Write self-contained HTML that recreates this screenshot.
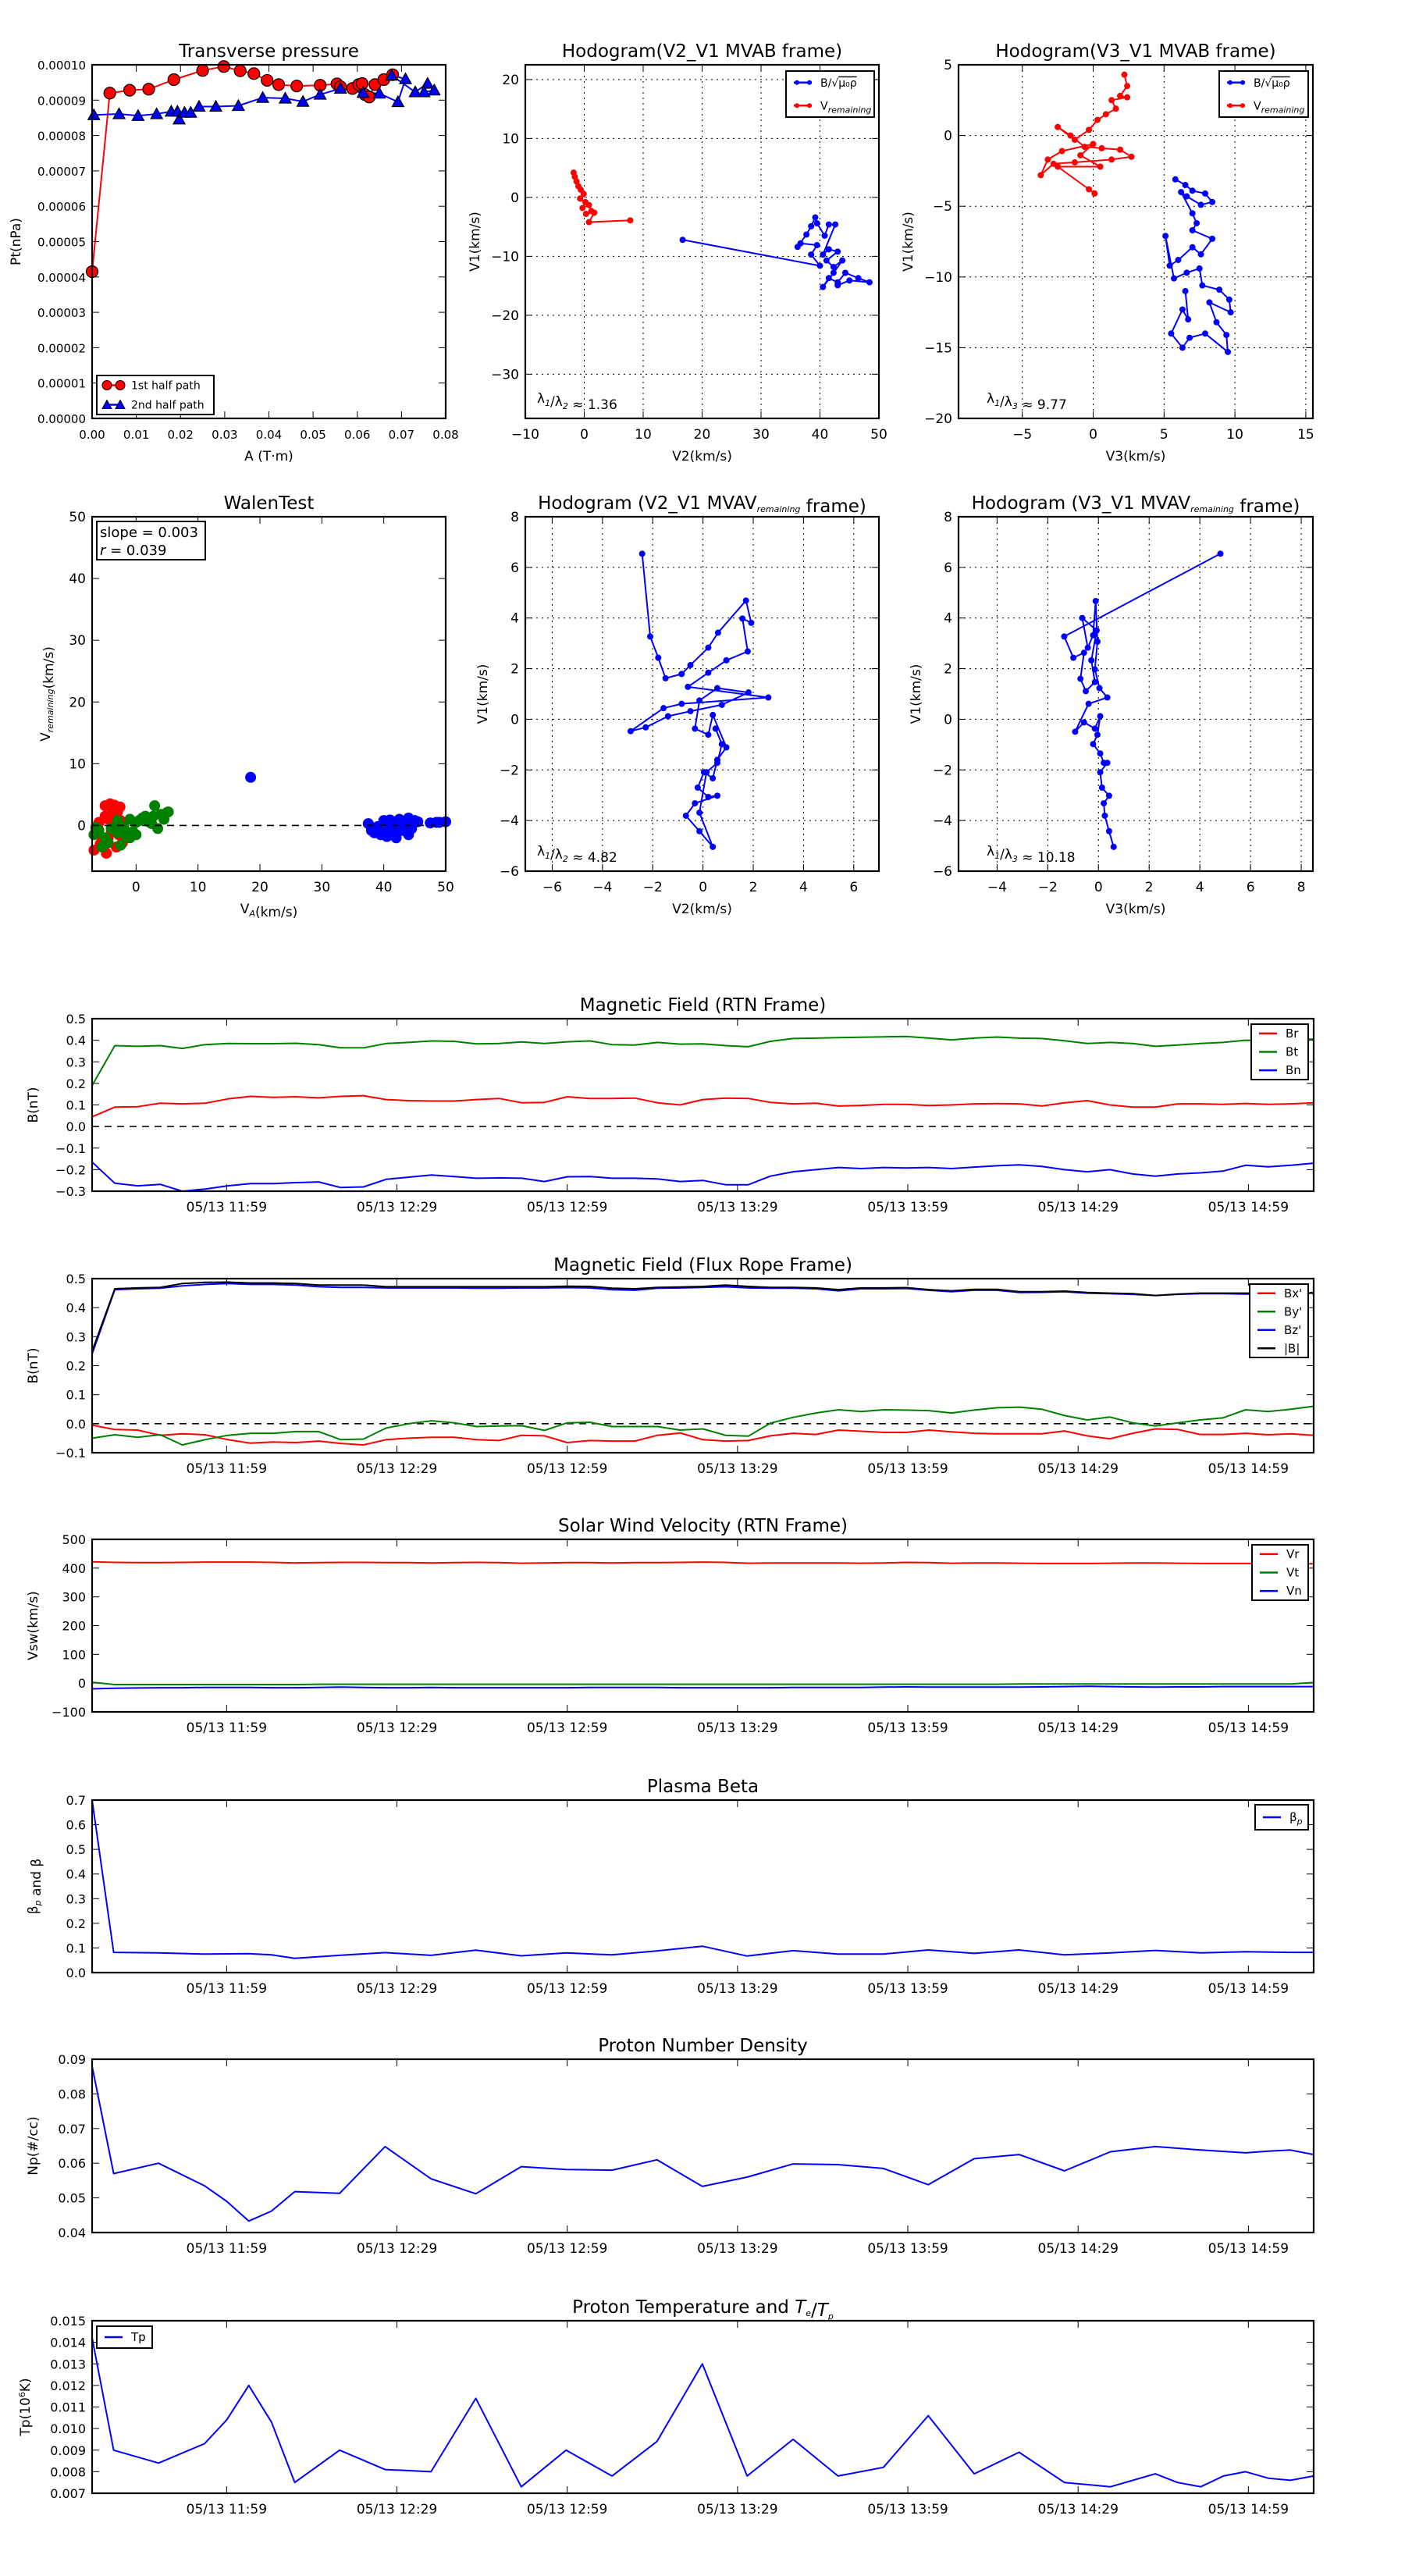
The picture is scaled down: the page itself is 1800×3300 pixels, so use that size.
<!DOCTYPE html>
<html><head><meta charset="utf-8">
<style>
html,body{margin:0;padding:0;background:#fff;}
svg{display:block;font-family:"DejaVu Sans","Liberation Sans",sans-serif;}
</style></head>
<body>
<svg id="fig" width="1800" height="3300" viewBox="0 0 1800 3300" xmlns="http://www.w3.org/2000/svg">
<rect x="0" y="0" width="1800" height="3300" fill="#fff"/>
</svg>
<script>
// ---------- data: transverse pressure ----------
const ptRedA=[0,0.004,0.0085,0.0128,0.0185,0.025,0.0298,0.0335,0.0366,0.0396,0.0422,0.0463,0.0516,0.0554,0.0562,0.0589,0.0603,0.0611,0.0617,0.0627,0.064,0.066,0.068];
const ptRedP=[0.0000415,0.000092,0.0000928,0.0000931,0.0000958,0.0000984,0.0000995,0.0000983,0.0000975,0.0000956,0.0000944,0.000094,0.0000942,0.0000946,0.0000938,0.0000933,0.0000944,0.0000947,0.0000916,0.0000909,0.0000944,0.0000958,0.0000972];
const ptBlueA=[0.0004,0.0061,0.0104,0.0146,0.0179,0.0193,0.0197,0.0209,0.0223,0.0242,0.028,0.0331,0.0386,0.0437,0.0477,0.0516,0.0562,0.0613,0.065,0.0692,0.0709,0.0678,0.0731,0.0759,0.0774,0.0751];
const ptBlueP=[0.0000858,0.0000861,0.0000856,0.0000861,0.0000868,0.0000868,0.0000846,0.0000865,0.0000865,0.0000882,0.0000882,0.0000884,0.0000907,0.0000905,0.0000896,0.0000916,0.0000933,0.0000921,0.0000919,0.0000895,0.000096,0.000097,0.0000923,0.0000947,0.0000928,0.0000923];
// ---------- hodogram V2_V1 MVAB ----------
const h1RedX=[-1.8,-1.6,-1.3,-1.0,-0.6,-0.1,-0.7,0.2,-0.3,0.8,1.2,0.3,1.7,0.8,7.8];
const h1RedY=[4.2,3.5,2.7,1.9,1.3,0.6,-0.2,-0.8,-1.8,-1.3,-2.3,-2.8,-2.6,-4.2,-3.9];
const h1BlueX=[16.7,40.0,38.5,39.5,36.7,36.2,37.7,38.5,39.2,39.5,40.8,41.5,42.6,40.5,41.5,43.0,41.1,42.3,43.8,42.3,40.5,41.5,43.0,44.3,46.5,48.4,45.0,43.0];
const h1BlueY=[-7.2,-11.6,-9.7,-8.1,-7.8,-8.4,-6.3,-4.9,-3.4,-4.4,-6.5,-4.6,-4.6,-9.7,-8.8,-9.2,-10.7,-11.8,-10.7,-12.8,-15.2,-13.7,-14.4,-12.8,-13.7,-14.4,-14.1,-14.9];
// ---------- hodogram V3_V1 MVAB ----------
const h2RedX=[2.2,2.4,1.9,2.4,1.3,1.6,0.9,0.3,-0.3,-1.3,-2.5,-1.6,-0.6,0.6,1.9,2.7,1.3,-1.3,-2.8,-3.7,-3.2,-2.2,0,-0.9,0.5,-2.5,-0.3,0.1];
const h2RedY=[4.3,3.5,2.8,2.7,2.5,1.9,1.5,1.1,0.4,-0.3,0.6,0,-0.8,-0.9,-1.0,-1.5,-1.7,-1.9,-2.0,-2.8,-1.7,-1.1,-0.6,-1.4,-2.2,-2.2,-3.8,-4.1];
const h2BlueX=[5.8,6.5,7.0,7.9,8.4,7.6,6.6,6.2,7.0,7.3,7.0,8.4,7.6,7.0,6.0,5.4,5.1,5.7,6.6,7.5,7.7,8.9,9.6,9.7,8.2,8.7,9.4,9.5,7.9,6.8,6.3,5.5,6.3,6.7,6.5];
const h2BlueY=[-3.1,-3.5,-3.9,-4.1,-4.7,-4.9,-4.3,-4.0,-5.5,-6.2,-6.7,-7.3,-8.4,-7.9,-8.8,-9.2,-7.1,-10.1,-9.7,-9.4,-10.6,-10.9,-11.6,-12.5,-11.8,-13.2,-14.1,-15.3,-14.0,-14.3,-15.0,-14.0,-12.3,-13.0,-11.0];
// ---------- Walen test ----------
const walRedX=[-6.5,-6,-5.5,-5,-4.5,-4,-3.5,-3,-2.5,-5.8,-4.8,-3.8,-2.8,-6.8,-5.2,-4.2,-3.2,-2.2,-6.2,-5,-4,-3,-4.5,-3.5,-2.6,-1.9];
const walRedY=[-1,0.5,-2,3.2,1,-0.5,3.3,2.2,0.8,-3,-4.5,2,-1.5,-4,-2.5,3.5,-3.5,-2.8,0,1.5,-1,0.3,-2,1.8,3,-2.2];
const walGreenX=[-6.8,-6,-5,-4,-3,-2,-1,0,1,2,3,4,5,-5.5,-4.5,-3.5,-2.5,-1.5,-0.5,0.5,1.5,2.5,3.5,4.5,-3,0,2.8,5.2,-6.5,-1];
const walGreenY=[-1.5,-0.8,-2,-0.5,-1.2,-0.3,-2,0.5,1.2,0.6,3.2,1.8,2.1,-3.5,-2.8,-0.6,-3.2,-1.8,-1,0.8,1.5,0.3,-0.5,1,0.8,-1.5,1.5,2.2,-0.3,1];
const walBlueX=[37.5,38,38.5,39,39.5,40,40.5,41,41.5,42,42.5,43,43.5,44,44.5,45,45.5,40,41,42,43,44,39,42.5,47.5,48.5,49,50,18.5];
const walBlueY=[0.3,-0.8,-1.2,-0.5,-1.5,0.8,-1.8,-0.3,0.5,-1.2,1,-0.8,0.3,1.2,-0.5,0.8,0.6,-1,0.9,-2,0.5,-1.5,-0.2,0.2,0.4,0.5,0.5,0.6,7.8];
// ---------- hodogram MVAV ----------
const h3X=[-2.42,-2.10,-1.78,-1.49,-0.85,-0.50,0.21,0.60,1.71,1.92,1.57,1.78,0.93,0.21,-0.60,2.60,-0.85,-1.57,-2.88,-2.28,-1.39,-0.50,0.75,1.81,0.57,-0.14,-0.32,0.21,0.39,0.93,0.57,0.39,0.04,-0.21,0.21,0.57,-0.32,-0.68,-0.14,0.39,-0.14,0.14,0.57,0.75,0.50];
const h3Y=[6.54,3.27,2.43,1.62,1.79,2.14,2.83,3.42,4.69,3.81,3.98,2.68,2.33,1.84,1.28,0.86,0.61,0.44,-0.47,-0.32,0.12,0.32,0.57,1.06,1.23,0.74,-0.37,-0.61,0.17,-1.11,-1.60,-2.33,-2.09,-2.70,-3.07,-3.02,-3.32,-3.81,-4.42,-5.04,-3.69,-2.09,-1.72,-0.98,-0.37];
const h4X=[4.81,-1.35,-0.99,-0.57,-0.71,-0.50,-0.14,-0.28,-0.07,-0.64,-0.42,-0.21,-0.11,-0.04,-0.14,0.04,0.35,-0.39,-0.92,-0.57,-0.14,0.07,-0.04,-0.21,0.07,0.21,0.35,0.07,0.14,0.42,0.21,0.25,0.42,0.60];
const h4Y=[6.54,3.27,2.43,2.63,1.60,1.11,1.47,2.33,3.51,4.00,2.83,3.32,4.67,3.07,1.97,1.23,0.86,0.61,-0.49,-0.12,-0.37,0.12,-0.61,-0.98,-1.35,-1.72,-1.72,-2.09,-2.70,-3.02,-3.32,-3.81,-4.42,-5.04];
// ---------- time series (minutes after 11:00) ----------
const tickTimes=[59,89,119,149,179,209,239];
const tickLabels=["05/13 11:59","05/13 12:29","05/13 12:59","05/13 13:29","05/13 13:59","05/13 14:29","05/13 14:59"];
const bTimes=[35.3,39.3,43.3,47.3,51.2,55.2,59.2,63.2,67.2,71.2,75.2,79.1,83.1,87.1,91.1,95.1,99.1,103.0,107.0,111.0,115.0,119.0,123.0,126.9,130.9,134.9,138.9,142.9,146.9,150.9,154.8,158.8,162.8,166.8,170.8,174.8,178.7,182.7,186.7,190.7,194.7,198.7,202.6,206.6,210.6,214.6,218.6,222.6,226.6,230.5,234.5,238.5,242.5,246.5,250.5];
const Br=[0.045,0.09,0.092,0.108,0.105,0.108,0.128,0.14,0.135,0.138,0.133,0.14,0.143,0.125,0.12,0.118,0.118,0.125,0.13,0.11,0.112,0.138,0.13,0.13,0.132,0.11,0.1,0.125,0.132,0.13,0.112,0.105,0.108,0.095,0.098,0.103,0.103,0.097,0.1,0.105,0.106,0.105,0.095,0.11,0.12,0.1,0.09,0.09,0.105,0.105,0.103,0.107,0.103,0.105,0.11];
const Bt=[0.19,0.375,0.372,0.375,0.362,0.38,0.385,0.384,0.384,0.386,0.38,0.365,0.365,0.385,0.39,0.397,0.395,0.383,0.385,0.392,0.385,0.393,0.397,0.38,0.378,0.39,0.382,0.383,0.375,0.37,0.395,0.408,0.41,0.412,0.414,0.416,0.418,0.41,0.402,0.41,0.415,0.41,0.408,0.398,0.385,0.39,0.385,0.372,0.378,0.385,0.39,0.40,0.398,0.405,0.405];
const Bn=[-0.165,-0.263,-0.275,-0.268,-0.3,-0.29,-0.275,-0.265,-0.265,-0.26,-0.257,-0.283,-0.28,-0.245,-0.235,-0.225,-0.232,-0.24,-0.238,-0.24,-0.255,-0.233,-0.232,-0.24,-0.24,-0.243,-0.255,-0.25,-0.27,-0.27,-0.23,-0.21,-0.2,-0.19,-0.195,-0.19,-0.192,-0.19,-0.195,-0.188,-0.182,-0.178,-0.185,-0.2,-0.21,-0.2,-0.22,-0.23,-0.22,-0.215,-0.207,-0.18,-0.187,-0.18,-0.17];
const Bx1=[-0.005,-0.02,-0.022,-0.04,-0.035,-0.038,-0.055,-0.067,-0.063,-0.065,-0.06,-0.068,-0.073,-0.055,-0.05,-0.047,-0.047,-0.055,-0.058,-0.04,-0.042,-0.065,-0.058,-0.06,-0.06,-0.04,-0.032,-0.055,-0.06,-0.058,-0.042,-0.033,-0.037,-0.022,-0.026,-0.03,-0.03,-0.022,-0.028,-0.033,-0.035,-0.035,-0.035,-0.025,-0.042,-0.052,-0.033,-0.018,-0.02,-0.037,-0.037,-0.033,-0.038,-0.035,-0.04];
const By1=[-0.05,-0.038,-0.047,-0.038,-0.073,-0.055,-0.04,-0.033,-0.033,-0.027,-0.027,-0.055,-0.053,-0.015,0,0.01,0.003,-0.01,-0.008,-0.007,-0.023,0.003,0.005,-0.01,-0.01,-0.01,-0.022,-0.018,-0.04,-0.043,0.002,0.022,0.037,0.048,0.042,0.048,0.047,0.045,0.037,0.047,0.055,0.057,0.05,0.028,0.013,0.023,0.003,-0.008,0.003,0.013,0.02,0.048,0.042,0.05,0.06];
const Bz1=[0.24,0.462,0.465,0.467,0.475,0.48,0.483,0.48,0.48,0.478,0.472,0.47,0.47,0.468,0.468,0.468,0.468,0.467,0.467,0.468,0.468,0.469,0.468,0.462,0.46,0.467,0.468,0.47,0.472,0.468,0.467,0.467,0.465,0.458,0.465,0.465,0.466,0.46,0.455,0.46,0.46,0.452,0.453,0.455,0.45,0.448,0.446,0.442,0.446,0.448,0.448,0.447,0.447,0.446,0.452];
const Bmag=[0.25,0.465,0.468,0.47,0.483,0.487,0.488,0.485,0.485,0.483,0.478,0.478,0.478,0.472,0.472,0.472,0.472,0.472,0.472,0.472,0.472,0.474,0.473,0.467,0.465,0.47,0.471,0.473,0.478,0.473,0.47,0.47,0.468,0.462,0.468,0.468,0.469,0.462,0.458,0.463,0.463,0.455,0.455,0.457,0.452,0.45,0.448,0.442,0.447,0.45,0.45,0.45,0.45,0.45,0.45];
const Vr=[422,420,419,419,420,421,421,421,420,418,419,420,420,419,419,418,419,420,419,417,418,419,419,418,419,419,420,421,420,417,418,418,418,418,417,418,420,419,417,418,418,417,416,416,416,417,418,418,417,416,416,416,416,415,415];
const Vt=[3,-5,-5,-5,-5,-5,-5,-5,-5,-5,-4,-4,-4,-4,-4,-4,-4,-4,-4,-4,-4,-4,-4,-4,-4,-4,-4,-4,-4,-4,-4,-4,-4,-4,-4,-4,-4,-4,-4,-4,-4,-3,-3,-3,-3,-3,-3,-3,-3,-3,-3,-3,-3,-3,2];
const Vn=[-20,-18,-17,-16,-16,-15,-15,-15,-16,-16,-15,-14,-15,-16,-16,-15,-16,-16,-16,-16,-16,-16,-15,-15,-15,-15,-16,-16,-16,-16,-16,-15,-15,-15,-15,-14,-13,-14,-14,-14,-14,-14,-13,-12,-11,-12,-13,-14,-13,-13,-12,-12,-12,-12,-12];
const betaTimes=[35.3,39.1,47.0,55.1,62.9,66.9,71.0,78.9,86.9,95.0,102.9,110.9,118.8,126.9,134.8,142.8,150.7,158.8,166.7,174.7,182.6,190.7,198.6,206.6,214.7,222.6,230.6,238.5,246.4,250.5];
const betaP=[0.7,0.082,0.08,0.075,0.077,0.072,0.058,0.07,0.081,0.07,0.091,0.068,0.08,0.072,0.088,0.107,0.067,0.089,0.075,0.075,0.092,0.078,0.092,0.072,0.08,0.09,0.08,0.085,0.082,0.082];
const npTimes=[35.3,39.1,47.0,55.1,59.0,62.9,66.9,71.0,78.9,86.9,95.0,102.9,110.9,118.8,126.9,134.8,142.8,150.7,158.8,166.7,174.7,182.6,190.7,198.6,206.6,214.7,222.6,230.6,238.5,242.5,246.4,250.5];
const Np=[0.088,0.057,0.060,0.0535,0.049,0.0433,0.0462,0.0518,0.0513,0.0648,0.0555,0.0512,0.059,0.0582,0.058,0.061,0.0533,0.056,0.0598,0.0596,0.0585,0.0538,0.0613,0.0625,0.0578,0.0633,0.0648,0.0638,0.063,0.0635,0.0638,0.0625];
const tpTimes=[35.3,39.1,47.0,55.1,59.0,62.9,66.9,71.0,78.9,86.9,95.0,102.9,110.9,118.8,126.9,134.8,142.8,150.7,158.8,166.7,174.7,182.6,190.7,198.6,206.6,214.7,222.6,226.5,230.6,234.6,238.5,242.5,246.4,250.5];
const Tp=[0.0142,0.0090,0.0084,0.0093,0.0104,0.0120,0.0103,0.0075,0.0090,0.0081,0.0080,0.0114,0.0073,0.0090,0.0078,0.0094,0.0130,0.0078,0.0095,0.0078,0.0082,0.0106,0.0079,0.0089,0.0075,0.0073,0.0079,0.0075,0.0073,0.0078,0.0080,0.0077,0.0076,0.0078];

// ---------- helpers ----------
const NS='http://www.w3.org/2000/svg';
const svg=document.getElementById('fig');
function mk(tag,attrs,parent){const e=document.createElementNS(NS,tag);for(const k in attrs)e.setAttribute(k,attrs[k]);(parent||svg).appendChild(e);return e;}
function fmtMinus(s){return String(s).replace('-','\u2212');}
function axes(name,x0,y0,x1,y1,xd,yd){
  const g=mk('g',{});
  
  
  const sx=v=>x0+(v-xd[0])/(xd[1]-xd[0])*(x1-x0);
  const sy=v=>y1-(v-yd[0])/(yd[1]-yd[0])*(y1-y0);
  return {g,sx,sy,x0,y0,x1,y1};
}
function frame(ax){
  const r=mk('rect',{x:ax.x0,y:ax.y0,width:ax.x1-ax.x0,height:ax.y1-ax.y0,fill:'none',stroke:'#000','stroke-width':2.2},ax.g);
  
  
}
function xTicks(ax,vals,labels,grid,fs){
  vals.forEach((v,i)=>{
    const x=ax.sx(v);
    if(grid){const gl=mk('line',{x1:x,x2:x,y1:ax.y0,y2:ax.y1,stroke:'#000','stroke-width':1,'stroke-dasharray':'2,5'},ax.g);
      
      }
    mk('line',{x1:x,x2:x,y1:ax.y1,y2:ax.y1-9,stroke:'#000','stroke-width':1},ax.g);
    mk('line',{x1:x,x2:x,y1:ax.y0,y2:ax.y0+9,stroke:'#000','stroke-width':1},ax.g);
    const t=mk('text',{x:x,y:ax.y1+26,'text-anchor':'middle','font-size':fs||17},ax.g);
    t.textContent=labels[i];
    
    
  });
}
function yTicks(ax,vals,labels,grid,fs){
  vals.forEach((v,i)=>{
    const y=ax.sy(v);
    if(grid){const gl=mk('line',{x1:ax.x0,x2:ax.x1,y1:y,y2:y,stroke:'#000','stroke-width':1,'stroke-dasharray':'2,5'},ax.g);
      
      }
    mk('line',{x1:ax.x0,x2:ax.x0+9,y1:y,y2:y,stroke:'#000','stroke-width':1},ax.g);
    mk('line',{x1:ax.x1,x2:ax.x1-9,y1:y,y2:y,stroke:'#000','stroke-width':1},ax.g);
    const t=mk('text',{x:ax.x0-8,y:y+6,'text-anchor':'end','font-size':fs||17},ax.g);
    t.textContent=labels[i];
    
    
  });
}
function title(ax,txt,y){
  const t=mk('text',{x:(ax.x0+ax.x1)/2,y:y,'text-anchor':'middle','font-size':23},ax.g);
  t.innerHTML=txt;
  
  
}
function xlabel(ax,txt,y){
  const t=mk('text',{x:(ax.x0+ax.x1)/2,y:y,'text-anchor':'middle','font-size':17},ax.g);
  t.innerHTML=txt;
  
  
}
function ylabel(ax,txt,x){
  const cy=(ax.y0+ax.y1)/2;
  const t=mk('text',{x:x,y:cy,'text-anchor':'middle','font-size':17,transform:`rotate(-90 ${x} ${cy})`},ax.g);
  t.innerHTML=txt;
  
  
}
function line(ax,xs,ys,color,name,w){
  const n=Math.min(xs.length,ys.length);
  const pts=[];for(let i=0;i<n;i++)pts.push(ax.sx(xs[i]).toFixed(1)+','+ax.sy(ys[i]).toFixed(1));
  const p=mk('polyline',{points:pts.join(' '),fill:'none',stroke:color,'stroke-width':w||2,'stroke-linejoin':'round'},ax.g);
  
  
}
function dots(ax,xs,ys,color,r,name,edge){
  const n=Math.min(xs.length,ys.length);
  for(let i=0;i<n;i++){
    const c=mk('circle',{cx:ax.sx(xs[i]),cy:ax.sy(ys[i]),r:r,fill:color,stroke:edge||'none','stroke-width':1.2},ax.g);
    
    
  }
}
function tris(ax,xs,ys,color,s,name){
  const n=Math.min(xs.length,ys.length);
  for(let i=0;i<n;i++){
    const x=ax.sx(xs[i]),y=ax.sy(ys[i]);
    const p=mk('polygon',{points:`${x},${y-s} ${x-s},${y+s*0.8} ${x+s},${y+s*0.8}`,fill:color,stroke:'#000','stroke-width':1.2},ax.g);
    
    
  }
}
function zeroLine(ax,y){
  const l=mk('line',{x1:ax.x0,x2:ax.x1,y1:ax.sy(y),y2:ax.sy(y),stroke:'#000','stroke-width':1.6,'stroke-dasharray':'9,7'},ax.g);
  
  
}
function legend(ax,x,y,w,h,entries,fs){
  const g=mk('g',{},ax.g);
  
  
  mk('rect',{x:x,y:y,width:w,height:h,fill:'#fff',stroke:'#000','stroke-width':2},g);
  const step=h/entries.length;
  entries.forEach((e,i)=>{
    const cy=y+step*(i+0.5);
    const l=mk('line',{x1:x+10,x2:x+33,y1:cy,y2:cy,stroke:e.c,'stroke-width':2.5},g);
    
    
    if(e.m==='o'){mk('circle',{cx:x+13,cy:cy,r:6,fill:e.c,stroke:'#000'},g);mk('circle',{cx:x+30,cy:cy,r:6,fill:e.c,stroke:'#000'},g);}
    if(e.m==='^'){mk('polygon',{points:`${x+13},${cy-6} ${x+7},${cy+5} ${x+19},${cy+5}`,fill:e.c,stroke:'#000'},g);mk('polygon',{points:`${x+30},${cy-6} ${x+24},${cy+5} ${x+36},${cy+5}`,fill:e.c,stroke:'#000'},g);}
    if(e.m==='.'){mk('circle',{cx:x+14,cy:cy,r:3,fill:e.c},g);mk('circle',{cx:x+30,cy:cy,r:3,fill:e.c},g);}
    const t=mk('text',{x:x+44,y:cy+5,'font-size':fs||15},g);
    t.innerHTML=e.t;
    
    
  });
}
const SUB=(s)=>`<tspan font-size="11" font-style="italic" dy="4">${s}</tspan><tspan dy="-4"></tspan>`;

// ---------- Panel A: transverse pressure ----------
{
 const ax=axes('transverse-pressure-chart',118,83,571,536,[0,0.08],[0,0.0001]);
 const xv=[0,0.01,0.02,0.03,0.04,0.05,0.06,0.07,0.08];
 xTicks(ax,xv,xv.map(v=>v.toFixed(2)),false,15);
 const yv=[0,0.00001,0.00002,0.00003,0.00004,0.00005,0.00006,0.00007,0.00008,0.00009,0.0001];
 yTicks(ax,yv,yv.map(v=>v.toFixed(5)),false,15);
 line(ax,ptRedA,ptRedP,'#f00','first-half-path-line',2);
 line(ax,ptBlueA,ptBlueP,'#00f','second-half-path-line',2);
 dots(ax,ptRedA,ptRedP,'#f00',7.5,'first-half-point','#000');
 tris(ax,ptBlueA,ptBlueP,'#00f',7.5,'second-half-point');
 legend(ax,124,481,150,50,[{c:'#f00',m:'o',t:'1st half path'},{c:'#00f',m:'^',t:'2nd half path'}],14);
 frame(ax);
 title(ax,'Transverse pressure',73);
 xlabel(ax,'A (T·m)',590);
 ylabel(ax,'Pt(nPa)',26);
}
// ---------- Panel B ----------
{
 const ax=axes('hodogram-v2-v1-mvab-chart',673,83,1126,536,[-10,50],[-37.5,22.5]);
 const xv=[-10,0,10,20,30,40,50];
 xTicks(ax,xv,xv.map(fmtMinus),true);
 const yv=[-30,-20,-10,0,10,20];
 yTicks(ax,yv,yv.map(fmtMinus),true);
 line(ax,h1BlueX,h1BlueY,'#00f','b-hodogram-line',2);
 dots(ax,h1BlueX,h1BlueY,'#00f',4,'b-hodogram-point');
 line(ax,h1RedX,h1RedY,'#f00','v-remaining-line',2);
 dots(ax,h1RedX,h1RedY,'#f00',4,'v-remaining-point');
 legend(ax,1007,91,113,59,[{c:'#00f',m:'.',t:'B/√<tspan text-decoration="overline">μ₀ρ</tspan>'},{c:'#f00',m:'.',t:'V'+SUB('remaining')}],14);
 const t=mk('text',{x:688,y:516,'font-size':17},ax.g);
 t.innerHTML='λ'+SUB('1')+'/λ'+SUB('2')+' ≈ 1.36';
 
 
 frame(ax);
 title(ax,'Hodogram(V2_V1 MVAB frame)',73);
 xlabel(ax,'V2(km/s)',590);
 ylabel(ax,'V1(km/s)',614);
}
// ---------- Panel C ----------
{
 const ax=axes('hodogram-v3-v1-mvab-chart',1228,83,1682,536,[-9.5,15.5],[-20,5]);
 const xv=[-5,0,5,10,15];
 xTicks(ax,xv,xv.map(fmtMinus),true);
 const yv=[-20,-15,-10,-5,0,5];
 yTicks(ax,yv,yv.map(fmtMinus),true);
 line(ax,h2BlueX,h2BlueY,'#00f','b-hodogram-line',2);
 dots(ax,h2BlueX,h2BlueY,'#00f',4,'b-hodogram-point');
 line(ax,h2RedX,h2RedY,'#f00','v-remaining-line',2);
 dots(ax,h2RedX,h2RedY,'#f00',4,'v-remaining-point');
 legend(ax,1562,91,114,59,[{c:'#00f',m:'.',t:'B/√<tspan text-decoration="overline">μ₀ρ</tspan>'},{c:'#f00',m:'.',t:'V'+SUB('remaining')}],14);
 const t=mk('text',{x:1264,y:516,'font-size':17},ax.g);
 t.innerHTML='λ'+SUB('1')+'/λ'+SUB('3')+' ≈ 9.77';
 
 
 frame(ax);
 title(ax,'Hodogram(V3_V1 MVAB frame)',73);
 xlabel(ax,'V3(km/s)',590);
 ylabel(ax,'V1(km/s)',1169);
}
// ---------- Walen ----------
{
 const ax=axes('walen-test-chart',118,662,571,1116,[-7.1,50],[-7.4,50]);
 const xv=[0,10,20,30,40,50];
 xTicks(ax,xv,xv.map(String),false);
 const yv=[0,10,20,30,40,50];
 yTicks(ax,yv,yv.map(String),false);
 dots(ax,walRedX,walRedY,'#f00',7,'walen-red-point');
 dots(ax,walGreenX,walGreenY,'#008000',7,'walen-green-point');
 dots(ax,walBlueX,walBlueY,'#00f',7,'walen-blue-point');
 zeroLine(ax,0);
 const g=mk('g',{},ax.g);
 
 
 mk('rect',{x:124,y:668,width:139,height:49,fill:'#fff',stroke:'#000','stroke-width':2},g);
 const t1=mk('text',{x:128,y:688,'font-size':18},g);t1.textContent='slope = 0.003';
 
 
 const t2=mk('text',{x:128,y:711,'font-size':18},g);t2.innerHTML='<tspan font-style="italic">r</tspan> = 0.039';
 
 
 frame(ax);
 title(ax,'WalenTest',652);
 xlabel(ax,'V'+SUB('A')+'(km/s)',1170);
 ylabel(ax,'V'+SUB('remaining')+'(km/s)',64);
}
// ---------- Panel E ----------
{
 const ax=axes('hodogram-v2-v1-mvav-chart',673,662,1126,1116,[-7.07,7.0],[-6,8]);
 const xv=[-6,-4,-2,0,2,4,6];
 xTicks(ax,xv,xv.map(fmtMinus),true);
 const yv=[-6,-4,-2,0,2,4,6,8];
 yTicks(ax,yv,yv.map(fmtMinus),true);
 line(ax,h3X,h3Y,'#00f','mvav-hodogram-line',2);
 dots(ax,h3X,h3Y,'#00f',4,'mvav-hodogram-point');
 const t=mk('text',{x:688,y:1096,'font-size':17},ax.g);
 t.innerHTML='λ'+SUB('1')+'/λ'+SUB('2')+' ≈ 4.82';
 
 
 frame(ax);
 title(ax,'Hodogram (V2_V1 MVAV'+SUB('remaining')+' frame)',652);
 xlabel(ax,'V2(km/s)',1170);
 ylabel(ax,'V1(km/s)',624);
}
// ---------- Panel F ----------
{
 const ax=axes('hodogram-v3-v1-mvav-chart',1228,662,1682,1116,[-5.52,8.46],[-6,8]);
 const xv=[-4,-2,0,2,4,6,8];
 xTicks(ax,xv,xv.map(fmtMinus),true);
 const yv=[-6,-4,-2,0,2,4,6,8];
 yTicks(ax,yv,yv.map(fmtMinus),true);
 line(ax,h4X,h4Y,'#00f','mvav-hodogram-line',2);
 dots(ax,h4X,h4Y,'#00f',4,'mvav-hodogram-point');
 const t=mk('text',{x:1264,y:1096,'font-size':17},ax.g);
 t.innerHTML='λ'+SUB('1')+'/λ'+SUB('3')+' ≈ 10.18';
 
 
 frame(ax);
 title(ax,'Hodogram (V3_V1 MVAV'+SUB('remaining')+' frame)',652);
 xlabel(ax,'V3(km/s)',1170);
 ylabel(ax,'V1(km/s)',1179);
}
// ---------- time series ----------
function tsAxes(name,y0,y1,yd,yv,dec,ttl,ylab,ylx){
 const ax=axes(name,118,y0,1683,y1,[35.3,250.5],yd);
 xTicks(ax,tickTimes,tickLabels,false,17);
 yTicks(ax,yv,yv.map(v=>fmtMinus(v.toFixed(dec))),false,16);
 title(ax,ttl,y0-10);
 ylabel(ax,ylab,ylx);
 return ax;
}
{
 const ax=tsAxes('magnetic-field-rtn-chart',1305,1526,[-0.3,0.5],[-0.3,-0.2,-0.1,0,0.1,0.2,0.3,0.4,0.5],1,'Magnetic Field (RTN Frame)','B(nT)',48);
 zeroLine(ax,0);
 line(ax,bTimes,Br,'#f00','br-line');
 line(ax,bTimes,Bt,'#008000','bt-line');
 line(ax,bTimes,Bn,'#00f','bn-line');
 legend(ax,1603,1312,73,71,[{c:'#f00',t:'Br'},{c:'#008000',t:'Bt'},{c:'#00f',t:'Bn'}]);
 frame(ax);
}
{
 const ax=tsAxes('magnetic-field-flux-rope-chart',1638,1861,[-0.1,0.5],[-0.1,0,0.1,0.2,0.3,0.4,0.5],1,'Magnetic Field (Flux Rope Frame)','B(nT)',48);
 zeroLine(ax,0);
 line(ax,bTimes,Bx1,'#f00','bx-prime-line');
 line(ax,bTimes,By1,'#008000','by-prime-line');
 line(ax,bTimes,Bz1,'#00f','bz-prime-line');
 line(ax,bTimes,Bmag,'#000','b-magnitude-line');
 legend(ax,1601,1645,75,94,[{c:'#f00',t:"Bx'"},{c:'#008000',t:"By'"},{c:'#00f',t:"Bz'"},{c:'#000',t:'|B|'}]);
 frame(ax);
}
{
 const ax=tsAxes('solar-wind-velocity-chart',1972,2193,[-100,500],[-100,0,100,200,300,400,500],0,'Solar Wind Velocity (RTN Frame)','Vsw(km/s)',48);
 line(ax,bTimes,Vr,'#f00','vr-line');
 line(ax,bTimes,Vt,'#008000','vt-line');
 line(ax,bTimes,Vn,'#00f','vn-line');
 legend(ax,1604,1979,72,71,[{c:'#f00',t:'Vr'},{c:'#008000',t:'Vt'},{c:'#00f',t:'Vn'}]);
 frame(ax);
}
{
 const ax=tsAxes('plasma-beta-chart',2306,2527,[0,0.7],[0,0.1,0.2,0.3,0.4,0.5,0.6,0.7],1,'Plasma Beta','β'+SUB('p')+' and β',48);
 line(ax,betaTimes,betaP,'#00f','beta-p-line');
 legend(ax,1608,2312,68,32,[{c:'#00f',t:'β'+SUB('p')}]);
 frame(ax);
}
{
 const ax=tsAxes('proton-density-chart',2638,2860,[0.04,0.09],[0.04,0.05,0.06,0.07,0.08,0.09],2,'Proton Number Density','Np(#/cc)',48);
 line(ax,npTimes,Np,'#00f','np-line');
 frame(ax);
}
{
 const ax=tsAxes('proton-temperature-chart',2973,3194,[0.007,0.015],[0.007,0.008,0.009,0.010,0.011,0.012,0.013,0.014,0.015],3,'Proton Temperature and <tspan font-style="italic">T</tspan>'+SUB('e')+'/<tspan font-style="italic">T</tspan>'+SUB('p'),'Tp(10<tspan font-size="11" dy="-6">6</tspan><tspan dy="6">K)</tspan>',38);
 line(ax,tpTimes,Tp,'#00f','tp-line');
 legend(ax,124,2980,71,28,[{c:'#00f',t:'Tp'}]);
 frame(ax);
}
</script>
</body></html>
